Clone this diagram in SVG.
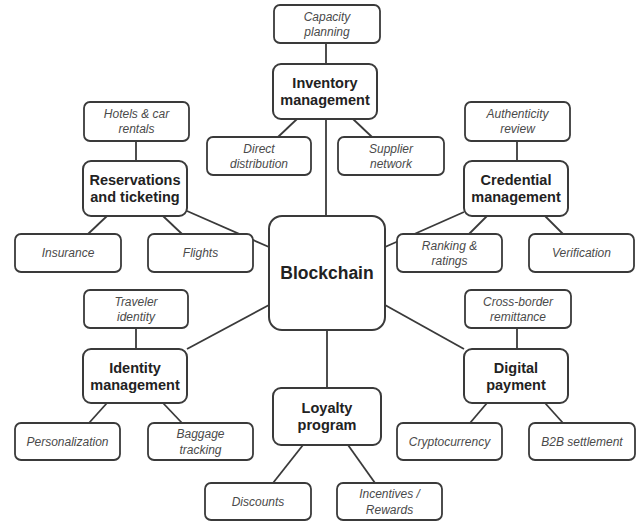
<svg xmlns="http://www.w3.org/2000/svg" width="639" height="521" viewBox="0 0 639 521">
<style>
.bg{fill:#ffffff}
.sub rect{fill:#fff;stroke:#3a3a3a;stroke-width:1.8}
.main rect{fill:#fff;stroke:#3a3a3a;stroke-width:2}
.sub text{font-family:"Liberation Sans",Arial,sans-serif;font-style:italic;font-size:12px;fill:#4a4a4a;text-anchor:middle}
.main text{font-family:"Liberation Sans",Arial,sans-serif;font-weight:bold;font-size:14.5px;fill:#222;text-anchor:middle}
#connectors line{stroke:#3a3a3a;stroke-width:1.8}
</style>
<rect class="bg" x="0" y="0" width="639" height="521"/>
<g id="connectors">
<line x1="326" y1="43" x2="326" y2="64"/>
<line x1="297" y1="119" x2="278" y2="137"/>
<line x1="353" y1="119" x2="372" y2="137"/>
<line x1="326" y1="119" x2="326" y2="216"/>
<line x1="136" y1="141" x2="136" y2="161"/>
<line x1="107" y1="216" x2="88" y2="234"/>
<line x1="163" y1="216" x2="182" y2="234"/>
<line x1="187" y1="211" x2="269" y2="247"/>
<line x1="517" y1="141" x2="517" y2="161"/>
<line x1="487" y1="216" x2="469" y2="234"/>
<line x1="545" y1="216" x2="563" y2="234"/>
<line x1="464" y1="212" x2="385" y2="247"/>
<line x1="136" y1="328" x2="136" y2="349"/>
<line x1="107" y1="403" x2="89" y2="423"/>
<line x1="163" y1="403" x2="182" y2="423"/>
<line x1="187" y1="349" x2="269" y2="305"/>
<line x1="517" y1="328" x2="517" y2="349"/>
<line x1="487" y1="403" x2="470" y2="423"/>
<line x1="545" y1="403" x2="563" y2="423"/>
<line x1="464" y1="349" x2="385" y2="305"/>
<line x1="327" y1="330" x2="327" y2="388"/>
<line x1="303" y1="445" x2="273" y2="483"/>
<line x1="348" y1="445" x2="375" y2="483"/>
</g>
<g id="capacity" class="sub"><rect x="274" y="5" width="106" height="38" rx="6"/><text x="327" y="20.5">Capacity</text><text x="327" y="36">planning</text></g>
<g id="inventory" class="main"><rect x="273" y="64" width="104" height="55" rx="8"/><text x="325" y="88">Inventory</text><text x="325" y="105">management</text></g>
<g id="direct" class="sub"><rect x="207" y="137" width="104" height="38" rx="6"/><text x="259" y="152.5">Direct</text><text x="259" y="168">distribution</text></g>
<g id="supplier" class="sub"><rect x="338" y="137" width="106" height="38" rx="6"/><text x="391" y="152.5">Supplier</text><text x="391" y="168">network</text></g>
<g id="hotels" class="sub"><rect x="84" y="102" width="105" height="39" rx="6"/><text x="136.5" y="117.5">Hotels &amp; car</text><text x="136.5" y="133">rentals</text></g>
<g id="reservations" class="main"><rect x="83" y="161" width="104" height="55" rx="8"/><text x="135" y="185">Reservations</text><text x="135" y="202">and ticketing</text></g>
<g id="insurance" class="sub"><rect x="15" y="234" width="106" height="38" rx="6"/><text x="68" y="257">Insurance</text></g>
<g id="flights" class="sub"><rect x="148" y="234" width="105" height="38" rx="6"/><text x="200.5" y="257">Flights</text></g>
<g id="authenticity" class="sub"><rect x="465" y="102" width="105" height="39" rx="6"/><text x="517.5" y="117.5">Authenticity</text><text x="517.5" y="133">review</text></g>
<g id="credential" class="main"><rect x="464" y="161" width="104" height="55" rx="8"/><text x="516" y="185">Credential</text><text x="516" y="202">management</text></g>
<g id="ranking" class="sub"><rect x="397" y="234" width="105" height="38" rx="6"/><text x="449.5" y="249.5">Ranking &amp;</text><text x="449.5" y="265">ratings</text></g>
<g id="verification" class="sub"><rect x="529" y="234" width="105" height="38" rx="6"/><text x="581.5" y="257">Verification</text></g>
<g id="blockchain" class="main"><rect x="269" y="216" width="116" height="114" rx="13"/><text x="327" y="279" style="font-size:17.5px">Blockchain</text></g>
<g id="traveler" class="sub"><rect x="84" y="290" width="104" height="38" rx="6"/><text x="136" y="305.5">Traveler</text><text x="136" y="321">identity</text></g>
<g id="identity" class="main"><rect x="83" y="349" width="104" height="54" rx="8"/><text x="135" y="373">Identity</text><text x="135" y="390">management</text></g>
<g id="personalization" class="sub"><rect x="15" y="423" width="105" height="37" rx="6"/><text x="67.5" y="446">Personalization</text></g>
<g id="baggage" class="sub"><rect x="148" y="423" width="105" height="37" rx="6"/><text x="200.5" y="438">Baggage</text><text x="200.5" y="453.5">tracking</text></g>
<g id="crossborder" class="sub"><rect x="465" y="290" width="106" height="38" rx="6"/><text x="518" y="305.5">Cross-border</text><text x="518" y="321">remittance</text></g>
<g id="digital" class="main"><rect x="464" y="349" width="104" height="54" rx="8"/><text x="516" y="373">Digital</text><text x="516" y="390">payment</text></g>
<g id="crypto" class="sub"><rect x="397" y="423" width="105" height="37" rx="6"/><text x="449.5" y="446">Cryptocurrency</text></g>
<g id="b2b" class="sub"><rect x="529" y="423" width="106" height="37" rx="6"/><text x="582" y="446">B2B settlement</text></g>
<g id="loyalty" class="main"><rect x="273" y="388" width="108" height="57" rx="8"/><text x="327" y="413">Loyalty</text><text x="327" y="430">program</text></g>
<g id="discounts" class="sub"><rect x="205" y="483" width="106" height="37" rx="6"/><text x="258" y="506">Discounts</text></g>
<g id="incentives" class="sub"><rect x="337" y="483" width="105" height="37" rx="6"/><text x="389.5" y="498">Incentives /</text><text x="389.5" y="513.5">Rewards</text></g>
</svg>
